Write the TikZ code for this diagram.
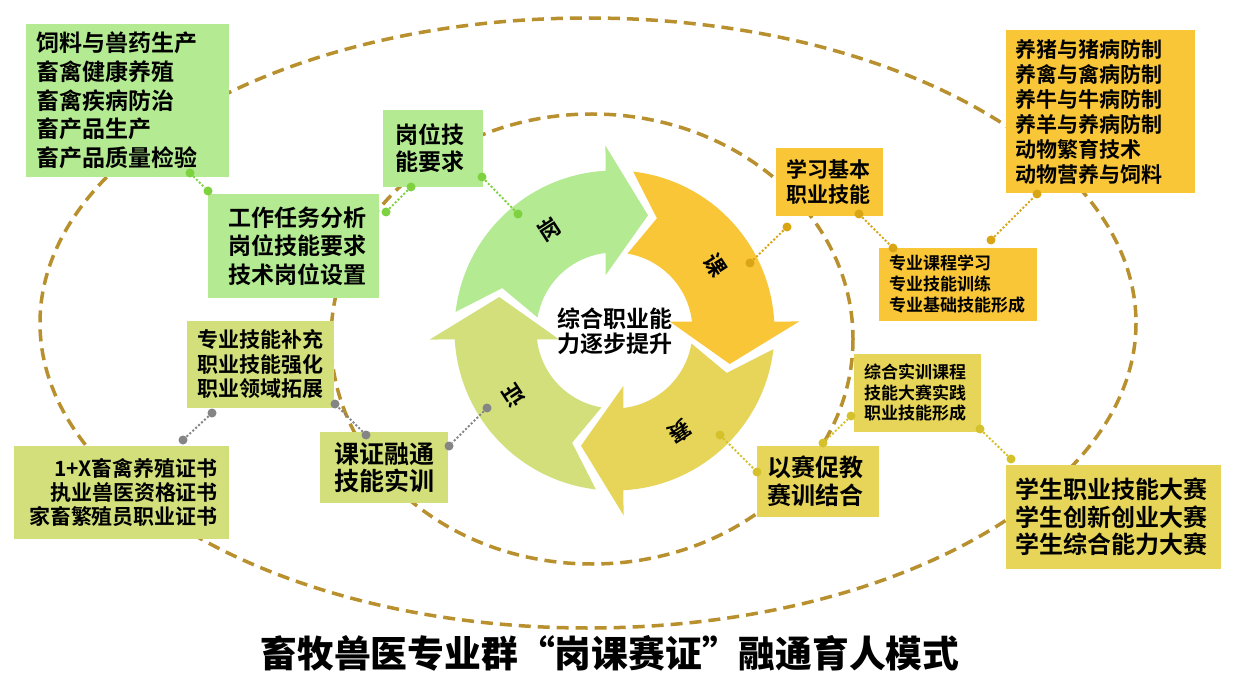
\documentclass[tikz,border=0pt]{standalone}
\usepackage{fontspec}
\setmainfont{Noto Sans CJK SC Bold}
\newfontfamily\heavyfont{Noto Sans CJK SC Black}
\usetikzlibrary{positioning}

\definecolor{gang}{HTML}{B3EA92}
\definecolor{ke}{HTML}{F9C638}
\definecolor{sai}{HTML}{E6D558}
\definecolor{zheng}{HTML}{D3DF7B}
\definecolor{rim}{HTML}{B8902E}
\definecolor{gdot}{HTML}{7ED23F}
\definecolor{odot}{HTML}{DAA514}
\definecolor{ydot}{HTML}{D4C12B}
\definecolor{sdot}{HTML}{858585}

\begin{document}
\begin{tikzpicture}[x=1pt, y=-1pt,
  rim/.style={draw=rim, line width=3.5pt, dash pattern=on 12pt off 7pt},
  box/.style={rectangle, inner ysep=0pt, anchor=center},
  ringlab/.style={font=\fontsize{22}{22}\selectfont},
  dotnode/.style={circle, inner sep=0pt, minimum size=9pt},
  link/.style={line width=2pt, dash pattern=on 2pt off 2pt}
]
\fill[white] (0,0) rectangle (1235,695);
\useasboundingbox (0,0) rectangle (1235,695);

% dashed ellipses
\draw[rim] (588,323) ellipse [x radius=548, y radius=305];
\draw[rim] (592,339) ellipse [x radius=261, y radius=225];

% boxes
\node[box, fill=gang, text width=183pt, inner xsep=10pt, minimum height=153pt, align=left,
  font=\fontsize{23}{28.7}\selectfont] (feed) at (127.5,100.5)
  {饲料与兽药生产\\畜禽健康养殖\\畜禽疾病防治\\畜产品生产\\畜产品质量检验};
\node[box, fill=gang, text width=131pt, inner xsep=20pt, minimum height=104pt, align=left,
  font=\fontsize{23}{28.5}\selectfont] (task) at (293.5,246)
  {工作任务分析\\岗位技能要求\\技术岗位设置};
\node[box, fill=gang, text width=76pt, inner xsep=12pt, minimum height=77pt, align=left,
  font=\fontsize{23}{27}\selectfont] (post) at (433,148.5)
  {岗位技\\能要求};
\node[box, fill=ke, text width=87pt, inner xsep=10pt, minimum height=68pt, align=left,
  font=\fontsize{21}{25}\selectfont] (basic) at (829.5,182)
  {学习基本\\职业技能};
\node[box, fill=ke, text width=171pt, inner xsep=9pt, minimum height=163pt, align=left,
  font=\fontsize{21}{25}\selectfont] (crop) at (1100.5,111.5)
  {养猪与猪病防制\\养禽与禽病防制\\养牛与牛病防制\\养羊与养病防制\\动物繁育技术\\动物营养与饲料};
\node[box, fill=ke, text width=138pt, inner xsep=10pt, minimum height=73pt, align=left,
  font=\fontsize{17}{21}\selectfont] (major) at (958,284.5)
  {专业课程学习\\专业技能训练\\专业基础技能形成};
\node[box, fill=zheng, text width=127pt, inner xsep=10pt, minimum height=87pt, align=center,
  font=\fontsize{21}{24.5}\selectfont] (supp) at (260.5,364.5)
  {专业技能补充\\职业技能强化\\职业领域拓展};
\node[box, fill=zheng, text width=193pt, inner xsep=11pt, minimum height=93pt, align=right,
  font=\fontsize{21}{24}\selectfont] (cert) at (121.5,492.5)
  {1+X畜禽养殖证书\\执业兽医资格证书\\家畜繁殖员职业证书};
\node[box, fill=zheng, text width=108pt, inner xsep=10pt, minimum height=71pt, align=center,
  font=\fontsize{25}{27}\selectfont] (fuse) at (384,467.5)
  {课证融通\\技能实训};
\node[box, fill=sai, text width=102pt, inner xsep=10pt, minimum height=71pt, align=left,
  font=\fontsize{24}{28}\selectfont] (promo) at (818,481.5)
  {以赛促教\\赛训结合};
\node[box, fill=sai, text width=107pt, inner xsep=10pt, minimum height=78pt, align=left,
  font=\fontsize{17}{20.5}\selectfont] (train) at (917.5,393)
  {综合实训课程\\技能大赛实践\\职业技能形成};
\node[box, fill=sai, text width=197pt, inner xsep=9pt, minimum height=104pt, align=left,
  font=\fontsize{24}{27.5}\selectfont] (match) at (1113.5,517)
  {学生职业技能大赛\\学生创新创业大赛\\学生综合能力大赛};

% cycle of four arrows
\begin{scope}[shift={(614.5,330.5)}]
\foreach \R/\col/\lab in {-90/gang/岗, 0/ke/课, 90/sai/赛, 180/zheng/证}{
  \fill[\col] (\R-83.3:160) arc[start angle=\R-83.3, end angle=\R-3.2, radius=160]
    -- (\R-2.8:185) -- (\R+16.2:120) -- (\R-9.2:56) -- (\R-6.6:78)
    arc[start angle=\R-6.6, end angle=\R-80.4, radius=78] -- (\R-69.3:120) -- cycle;
  \node[ringlab, rotate=-57-\R] at (\R-33:120) {\lab};
}
\end{scope}
\node[align=center, font=\fontsize{23}{24.5}\selectfont] (core) at (614.5,331)
  {综合职业能\\力逐步提升};

% connectors
\foreach \n/\px/\py/\c in {g1/190/173/gdot, g2/208/191/gdot, g3/386/212/gdot, g4/411/187/gdot,
  g5/482/177/gdot, g6/518/214/gdot, o1/750/263/odot, o2/787/227/odot, o3/859/214/odot,
  o4/893/248/odot, o5/991/240/odot, o6/1037/194/odot, y1/720/435/ydot, y2/757/472/ydot,
  y3/823/443/ydot, y4/851/416/ydot, y5/980/429/ydot, y6/1011/459/ydot, s1/487/408/sdot,
  s2/449/446/sdot, s3/366/435/sdot, s4/335/404/sdot, s5/212/413/sdot, s6/183/440/sdot}
  \node[dotnode, fill=\c] (\n) at (\px,\py) {};
\draw[link, gdot] (g1) -- (g2);
\draw[link, gdot] (g3) -- (g4);
\draw[link, gdot] (g5) -- (g6);
\draw[link, odot] (o1) -- (o2);
\draw[link, odot] (o3) -- (o4);
\draw[link, odot] (o5) -- (o6);
\draw[link, ydot] (y1) -- (y2);
\draw[link, ydot] (y3) -- (y4);
\draw[link, ydot] (y5) -- (y6);
\draw[link, sdot] (s1) -- (s2);
\draw[link, sdot] (s3) -- (s4);
\draw[link, sdot] (s5) -- (s6);

% title
\node[font=\heavyfont\fontsize{36.8}{36.8}\selectfont] (title) at (610,653)
  {畜牧兽医专业群“岗课赛证”融通育人模式};
\end{tikzpicture}
\end{document}
